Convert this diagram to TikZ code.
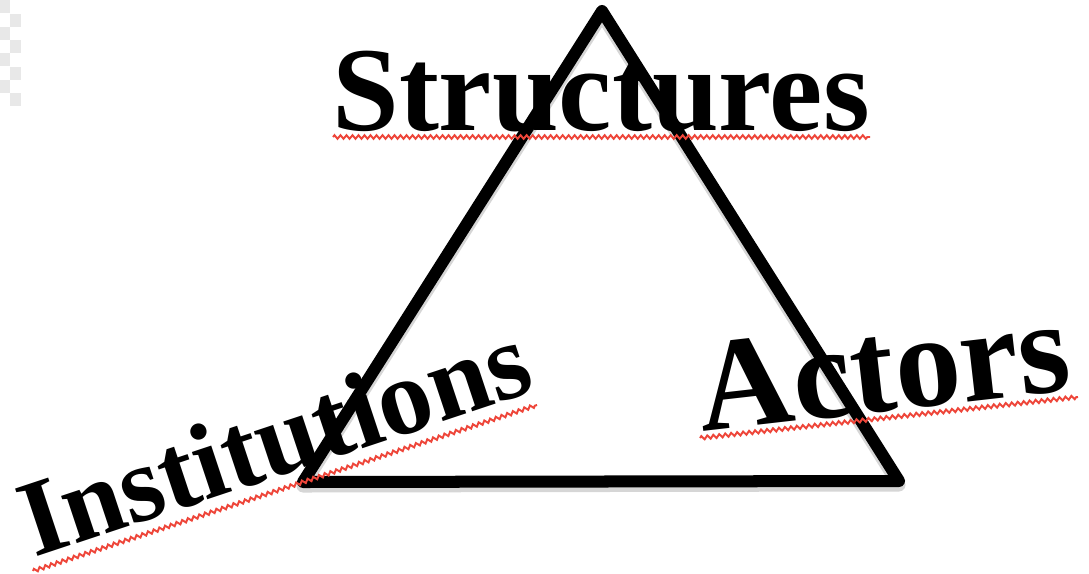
\documentclass[tikz,border=0pt]{standalone}
\usepackage{fontspec}
\setmainfont{Liberation Serif}
\usetikzlibrary{decorations.pathmorphing,calc}
\definecolor{spellred}{RGB}{238,70,58}
\begin{document}
\begin{tikzpicture}[x=0.01cm,y=-0.01cm,
  edge/.style={line width=0.12cm, line join=round, line cap=round, draw=black},
  shadowedge/.style={line width=0.13cm, line join=round, line cap=round, draw=black!35, opacity=0.45},
  word/.style={inner sep=0pt, text=black},
  spell/.style={draw=spellred, line width=0.55pt, decorate,
    decoration={zigzag, segment length=0.06cm, amplitude=0.018cm}},
  checker/.style={fill=black!9, draw=none}]
\useasboundingbox (0,0) rectangle (1089,573);
\fill[white] (0,0) rectangle (1089,573);
% transparency checker strip (top left)
\foreach \y in {0,27,53,80} {\fill[checker] (0,\y) rectangle (10,\y+13);}
\foreach \y in {14,40,67,93} {\fill[checker] (10,\y) rectangle (21,\y+13);}
% triangle
\coordinate (T) at (602,11);
\coordinate (L) at (303,482);
\coordinate (R) at (899,481);
\draw[shadowedge] ([yshift=-0.04cm]T) -- ([yshift=-0.04cm]L) -- ([yshift=-0.04cm]R) -- cycle;
\draw[edge] (T) -- (L) -- (R) -- cycle;
% words
\node[word, font=\bfseries\fontsize{34.1}{36}\selectfont, anchor=base] (S) at (601,130) {Structures};
\node[word, font=\bfseries\fontsize{30.8}{33}\selectfont, rotate=18.4, anchor=base west] (I) at (34,558) {Institutions};
\node[word, font=\bfseries\fontsize{37.5}{40}\selectfont, rotate=6.5, anchor=base west] (A) at (702,432) {Actors};
% spell-check underlines
\coordinate (s1) at (333,137); \coordinate (s2) at (870,137);
\coordinate (i1) at (33,571);  \coordinate (i2) at (537,405);
\coordinate (a1) at (700,438); \coordinate (a2) at (1078,397);
\draw[spell] (s1) -- (s2);
\draw[spell] (i1) -- (i2);
\draw[spell] (a1) -- (a2);
\end{tikzpicture}
\end{document}
